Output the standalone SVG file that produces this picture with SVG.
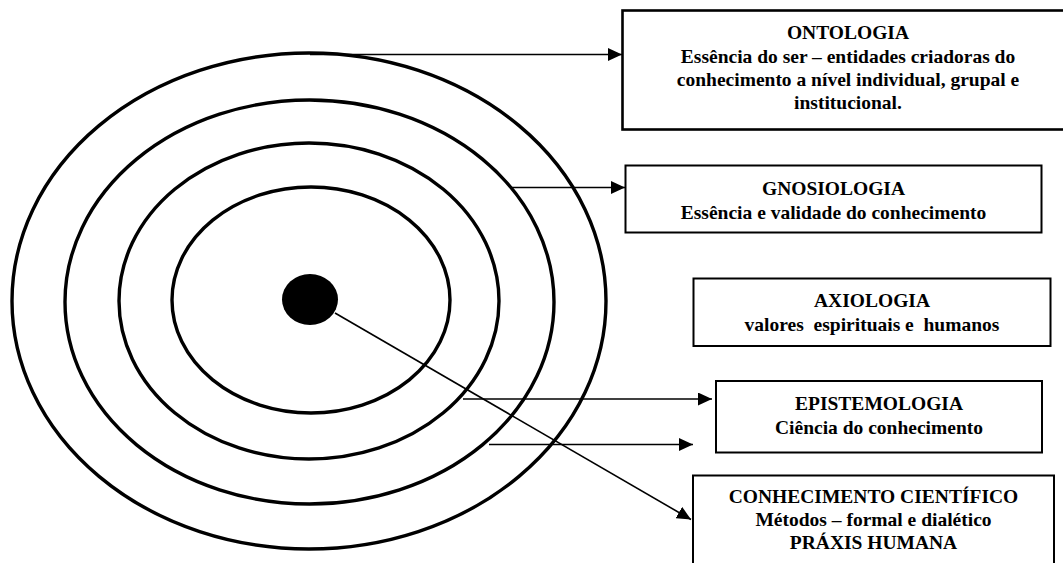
<svg xmlns="http://www.w3.org/2000/svg" width="1063" height="563" viewBox="0 0 1063 563">
<style>
.ring{fill:none;stroke:#000;stroke-width:3.4}
.box{fill:#fff;stroke:#000;stroke-width:2}
.box2{fill:#fff;stroke:#000;stroke-width:2.6}
.conn{fill:none;stroke:#000;stroke-width:1.6}
text{font-family:"Liberation Serif","Times New Roman",serif;font-weight:bold;font-size:19.5px;fill:#000;text-anchor:middle}
</style>
<defs>
<marker id="arr" markerUnits="userSpaceOnUse" markerWidth="15" markerHeight="13" refX="14" refY="6.5" orient="auto">
<path d="M0,0 L14,6.5 L0,13 z" fill="#000"/>
</marker>
</defs>
<rect width="1063" height="563" fill="#fff"/>
<g id="rings">
<ellipse class="ring" cx="309" cy="301" rx="297" ry="248"/>
<ellipse class="ring" cx="309.5" cy="302" rx="244.5" ry="202"/>
<ellipse class="ring" cx="309" cy="301" rx="190" ry="158"/>
<ellipse class="ring" cx="311" cy="300" rx="139" ry="113"/>
</g>
<g id="core">
<ellipse cx="310" cy="299.5" rx="28" ry="25.5" fill="#000"/>
</g>
<g id="connectors">
<line class="conn" x1="310" y1="54.5" x2="622" y2="54.5" marker-end="url(#arr)"/>
<line class="conn" x1="512" y1="187.5" x2="625" y2="187.5" marker-end="url(#arr)"/>
<line class="conn" x1="463" y1="399" x2="712" y2="399" marker-end="url(#arr)"/>
<line class="conn" x1="489" y1="444.5" x2="693" y2="444.5" marker-end="url(#arr)"/>
<line class="conn" x1="335" y1="313" x2="691" y2="519.5" marker-end="url(#arr)"/>
</g>
<g id="ontologia">
<rect class="box2" x="622.5" y="10.5" width="445" height="119"/>
<text x="848" y="39">ONTOLOGIA</text>
<text x="848" y="62.5">Essência do ser – entidades criadoras do</text>
<text x="848" y="86">conhecimento a nível individual, grupal e</text>
<text x="848" y="109">institucional.</text>
</g>
<g id="gnosiologia">
<rect class="box" x="625.5" y="165.5" width="416" height="67"/>
<text x="833.5" y="194.5">GNOSIOLOGIA</text>
<text x="833.5" y="218.5">Essência e validade do conhecimento</text>
</g>
<g id="axiologia">
<rect class="box" x="693.5" y="278.5" width="357" height="67.5"/>
<text x="872" y="307">AXIOLOGIA</text>
<text x="872" y="330.5" xml:space="preserve">valores  espirituais e  humanos</text>
</g>
<g id="epistemologia">
<rect class="box" x="716" y="381" width="326" height="71.5"/>
<text x="879" y="410">EPISTEMOLOGIA</text>
<text x="879" y="433.5">Ciência do conhecimento</text>
</g>
<g id="conhecimento">
<rect class="box" x="693" y="475.5" width="361" height="95"/>
<text x="873.5" y="502.5">CONHECIMENTO CIENTÍFICO</text>
<text x="873.5" y="525.5">Métodos – formal e dialético</text>
<text x="873.5" y="548.5">PRÁXIS HUMANA</text>
</g>
</svg>
